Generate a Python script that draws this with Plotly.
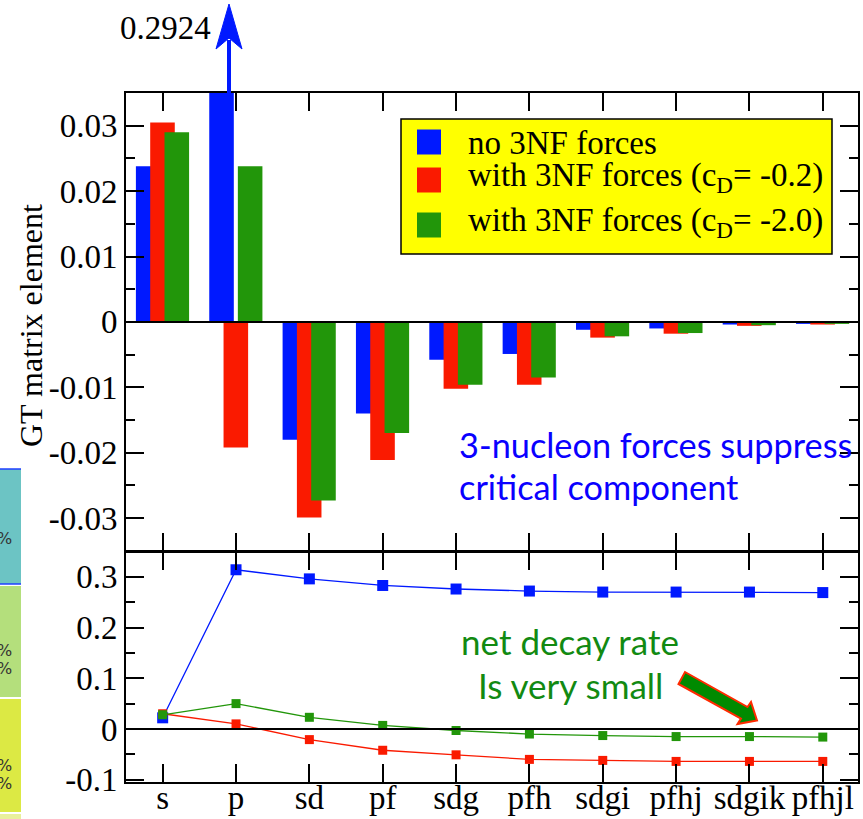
import plotly.graph_objects as go

# ---------------- data ----------------
categories = ["s", "p", "sd", "pf", "sdg", "pfh", "sdgi", "pfhj", "sdgik", "pfhjl"]

gt_no3nf = [0.0238, 0.2924, -0.0180, -0.0140, -0.0058, -0.0049, -0.0012, -0.0010, -0.0004, -0.0003]
gt_cd02 = [0.0305, -0.0192, -0.0299, -0.0211, -0.0102, -0.0096, -0.0024, -0.0018, -0.0006, -0.0004]
gt_cd20 = [0.0290, 0.0238, -0.0273, -0.0170, -0.0096, -0.0085, -0.0022, -0.0017, -0.0005, -0.0003]

cum_no3nf = [0.022, 0.314, 0.296, 0.283, 0.276, 0.272, 0.270, 0.270, 0.270, 0.269]
cum_cd02 = [0.030, 0.010, -0.021, -0.042, -0.051, -0.060, -0.062, -0.064, -0.064, -0.064]
cum_cd20 = [0.028, 0.050, 0.023, 0.007, -0.003, -0.010, -0.013, -0.015, -0.015, -0.016]

top_tickvals = [-0.03, -0.02, -0.01, 0, 0.01, 0.02, 0.03]
top_ticktext = ["-0.03", "-0.02", "-0.01", "0", "0.01", "0.02", "0.03"]
bot_tickvals = [-0.1, 0, 0.1, 0.2, 0.3]
bot_ticktext = ["-0.1", "0", "0.1", "0.2", "0.3"]

legend_labels = ["no 3NF forces",
                 "with 3NF forces (c<sub>D</sub>= -0.2)",
                 "with 3NF forces (c<sub>D</sub>= -2.0)"]
clipped_label = "0.2924"
note_blue = ["3-nucleon forces suppress", "critical component"]
note_green = ["net decay rate", "Is very small"]

# ---------------- style ----------------
BLUE = "#0019ff"
RED = "#fa1a00"
GREEN = "#22960a"
SERIF = "Liberation Serif"
SANS = "Lato"
FS = 33
W, H = 863, 819
ML, MR, MT, MB = 126, 5, 93, 37
PW, PH = W - ML - MR, H - MT - MB


def px(X):
    return (X - ML) / PW


def py(Y):
    return (H - MB - Y) / PH


fig = go.Figure()

bar_w = 0.335
offsets = [-0.365, -0.17, 0.025]
for vals, col, off in zip([gt_no3nf, gt_cd02, gt_cd20], [BLUE, RED, GREEN], offsets):
    fig.add_trace(go.Bar(x=categories, y=vals, xaxis="x", yaxis="y",
                         marker=dict(color=col, line=dict(width=0)),
                         width=bar_w, offset=off, showlegend=False))

for vals, col, ms in zip([cum_no3nf, cum_cd02, cum_cd20], [BLUE, RED, GREEN], [11, 9, 9]):
    fig.add_trace(go.Scatter(x=categories, y=vals, xaxis="x2", yaxis="y2",
                             mode="lines+markers",
                             line=dict(color=col, width=1.3),
                             marker=dict(symbol="square", size=ms, color=col),
                             showlegend=False))

axis_common = dict(showline=True, linecolor="black", linewidth=2, mirror="ticks",
                   ticks="inside", tickcolor="black", tickwidth=2,
                   showgrid=False, zeroline=False, automargin=False)

fig.update_layout(
    width=W, height=H,
    margin=dict(l=ML, r=MR, t=MT, b=MB, autoexpand=False),
    paper_bgcolor="white", plot_bgcolor="white",
    barmode="overlay",
    showlegend=False,
    font=dict(family=SERIF, size=FS, color="black"),
    xaxis=dict(anchor="y", domain=[0, 1], type="category", range=[-0.5, 9.48],
               showticklabels=False, ticklen=18, **axis_common),
    yaxis=dict(anchor="x", domain=[0.3355, 1], range=[-0.035, 0.035],
               tickmode="array", tickvals=top_tickvals, ticktext=top_ticktext,
               ticklen=18,
               minor=dict(tickmode="linear", tick0=0, dtick=0.005, ticklen=9,
                          ticks="inside", tickwidth=2, tickcolor="black"),
               tickfont=dict(family=SERIF, size=FS), **axis_common),
    xaxis2=dict(anchor="y2", domain=[0, 1], type="category", range=[-0.5, 9.48],
                ticklen=18, ticklabelstandoff=-15,
                tickfont=dict(family=SERIF, size=FS), **axis_common),
    yaxis2=dict(anchor="x2", domain=[0, 0.3338], range=[-0.1046, 0.349],
                tickmode="array", tickvals=bot_tickvals, ticktext=bot_ticktext,
                ticklen=18,
                minor=dict(tickmode="linear", tick0=0, dtick=0.05, ticklen=9,
                           ticks="inside", tickwidth=2, tickcolor="black"),
                tickfont=dict(family=SERIF, size=FS), **axis_common),
)

shapes = []
# zero lines
shapes.append(dict(type="line", xref="x domain", yref="y", x0=0, x1=1, y0=0, y1=0,
                   line=dict(color="black", width=2)))
shapes.append(dict(type="line", xref="x2 domain", yref="y2", x0=0, x1=1, y0=0, y1=0,
                   line=dict(color="black", width=2)))

# clipped-bar arrow
shapes.append(dict(type="line", xref="paper", yref="paper",
                   x0=px(229), x1=px(229), y0=py(93), y1=py(40),
                   line=dict(color=BLUE, width=4)))
shapes.append(dict(type="path", xref="paper", yref="paper",
                   path=f"M {px(229)},{py(4)} L {px(216)},{py(49)} L {px(229)},{py(38)} L {px(242)},{py(49)} Z",
                   fillcolor=BLUE, line=dict(color=BLUE, width=1)))

# legend box
shapes.append(dict(type="rect", xref="paper", yref="paper",
                   x0=px(401), x1=px(832), y0=py(254), y1=py(119),
                   fillcolor="#ffff00", line=dict(color="black", width=1.5)))
for col, yc in zip([BLUE, RED, GREEN], [142, 180, 225]):
    shapes.append(dict(type="rect", xref="paper", yref="paper",
                       x0=px(417), x1=px(441), y0=py(yc + 12.5), y1=py(yc - 12.5),
                       fillcolor=col, line=dict(width=0)))

# green block arrow
arrow_pts = [(685, 672), (747.5, 707), (751, 702), (757, 720.5), (737.5, 724), (741, 718.5), (678.5, 684)]
path = "M " + " L ".join(f"{px(a)},{py(b)}" for a, b in arrow_pts) + " Z"
shapes.append(dict(type="path", xref="paper", yref="paper", path=path,
                   fillcolor="#008a00", line=dict(color="#ff2a00", width=2)))

# partial table at the left edge
strips = [(469, 584, "#6cc4c4"), (586, 697, "#b4df7c"), (699, 812, "#dce944"), (814, 819, "#e9f09c")]
for y0, y1, col in strips:
    shapes.append(dict(type="rect", xref="paper", yref="paper",
                       x0=px(-2), x1=px(21), y0=py(y1), y1=py(y0),
                       fillcolor=col, line=dict(width=0), layer="below"))
for yy in (469, 584):
    shapes.append(dict(type="line", xref="paper", yref="paper",
                       x0=px(-2), x1=px(21), y0=py(yy), y1=py(yy),
                       line=dict(color="#1f3fff", width=1.5)))
fig.update_layout(shapes=shapes)

ann = []
ann.append(dict(xref="paper", yref="paper", x=px(213), y=py(28), text=clipped_label,
                showarrow=False, xanchor="right", yanchor="middle",
                font=dict(family=SERIF, size=FS, color="black")))
ann.append(dict(xref="paper", yref="paper", x=px(31), y=py(326), text="GT matrix element",
                showarrow=False, textangle=-90, xanchor="center", yanchor="middle",
                font=dict(family=SERIF, size=FS - 1, color="black")))
for lab, yc in zip(legend_labels, [143, 177, 223]):
    ann.append(dict(xref="paper", yref="paper", x=px(466), y=py(yc), text=lab,
                    showarrow=False, xanchor="left", yanchor="middle",
                    font=dict(family=SERIF, size=FS, color="black")))
for txt, yc in zip(note_blue, [444, 486]):
    ann.append(dict(xref="paper", yref="paper", x=px(457), y=py(yc), text=txt,
                    showarrow=False, xanchor="left", yanchor="middle",
                    font=dict(family=SANS, size=34.3, color="#0a00ff")))
for txt, yc in zip(note_green, [641, 685]):
    ann.append(dict(xref="paper", yref="paper", x=px(570), y=py(yc), text=txt,
                    showarrow=False, xanchor="center", yanchor="middle",
                    font=dict(family=SANS, size=35, color="#128a12")))
for yy in (538, 650, 668, 765, 783):
    ann.append(dict(xref="paper", yref="paper", x=px(14), y=py(yy), text="%",
                    showarrow=False, xanchor="right", yanchor="middle",
                    font=dict(family="DejaVu Sans", size=16, color="#333333")))
fig.update_layout(annotations=ann)

fig.write_html("out.html", config={"displayModeBar": False},
               post_script="document.body.style.margin='0px';document.body.style.overflow='hidden';")
